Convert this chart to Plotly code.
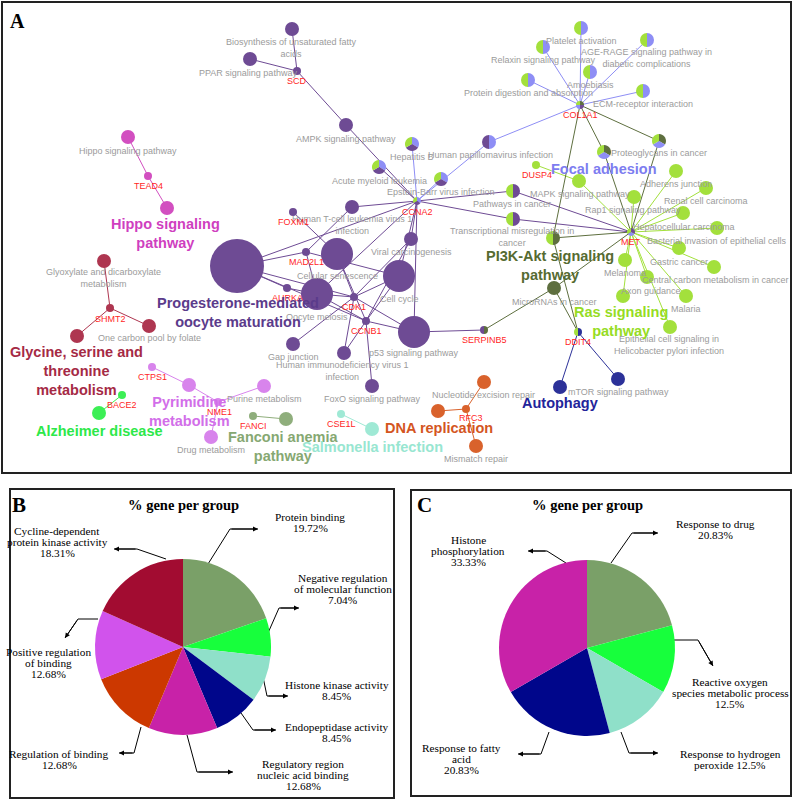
import plotly.graph_objects as go

W, H = 793, 800

# ---------------- Panel A : ClueGO-like network ----------------
group_color = dict(
    prog="#6e4b94", hippo="#d24fc0", gly="#ae3650", pyr="#d884ec", alz="#3cef55",
    fan="#8fae7c", sal="#9fe9d5", dna="#d9622c", auto="#2c3199", ras="#a3e03c",
    pi3k="#5e6f3f", focal="#8e8ef5")
group_text_color = dict(
    prog="#5b3b8b", hippo="#cf3fbf", gly="#a52a45", pyr="#d26ee9", alz="#2ee84a",
    fan="#86a872", sal="#98e6d1", dna="#d4561f", auto="#23249a", ras="#96dc24",
    pi3k="#566b31", focal="#7d7df0")

# single-coloured term nodes
term_id = ["biosyn", "ppar", "ampk", "hippo1", "hippo2", "humant", "viral", "prog", "cellsen",
           "cellcyc", "oocyte", "p53", "gap", "hiv", "foxo", "glyox", "onecarb", "glycine",
           "pyrim", "purine", "drugmet", "alz", "fanc", "salm", "ner", "dnarep", "mmr",
           "mapk", "adherens", "renal", "rap1", "hcc", "bact", "melanoma", "gastric",
           "central", "axon", "ras13", "malaria", "epith", "mirna", "autoph", "mtor"]
term_x = [292, 250, 346, 128, 167, 352, 411, 237, 337, 399, 317, 414, 293, 344, 372, 104, 149, 77,
          189, 264, 211, 99, 286, 372, 484, 438, 476, 579, 676, 706, 634, 683, 717, 625, 679,
          714, 647, 623, 686, 670, 554, 560, 618]
term_y = [29, 59, 125, 137, 208, 207, 239, 266, 254, 276, 294, 332, 344, 353, 386, 261, 326, 336,
          385, 386, 437, 413, 419, 429, 382, 411, 446, 181, 171, 188, 197, 213, 228, 260, 248,
          267, 277, 296, 296, 327, 288, 387, 379]
term_r = [7, 7, 7, 7, 7, 7, 7, 27, 16, 16, 16, 16, 7, 7, 7, 7, 7, 7, 7, 7, 7, 7, 7, 7, 7, 7, 7,
          7, 7, 7, 7, 7, 7, 7, 7, 7, 7, 7, 7, 7, 7, 7, 7]
term_grp = ["prog", "prog", "prog", "hippo", "hippo", "prog", "prog", "prog", "prog", "prog", "prog",
            "prog", "prog", "prog", "prog", "gly", "gly", "gly", "pyr", "pyr", "pyr", "alz", "fan",
            "sal", "dna", "dna", "dna", "ras", "ras", "ras", "ras", "ras", "ras", "ras", "ras", "ras",
            "ras", "ras", "ras", "ras", "pi3k", "auto", "auto"]

# single-coloured gene nodes
gene_id = ["scd", "tead4", "foxm1", "mad2l1", "aurka", "cdk1", "ccnb1", "shmt2", "ctps1", "nme1",
           "bace2", "fanci", "cse1l", "rfc3", "dusp4"]
gene_x = [297, 148, 293, 306, 287, 354, 366, 110, 152, 218, 122, 253, 341, 466, 536]
gene_y = [71, 176, 212, 252, 288, 297, 321, 308, 367, 402, 395, 416, 414, 409, 165]
gene_grp = ["prog", "hippo", "prog", "prog", "prog", "prog", "prog", "gly", "pyr", "pyr", "alz",
            "fan", "sal", "dna", "ras"]

# multi-group (pie) nodes
pie_id = ["hepb", "aml", "ebv", "hpv", "pic", "tmc", "platelet", "relaxin", "agerage", "amoeb",
          "protdig", "ecm", "proteo", "focal", "pi3k", "ccna2", "col1a1", "met", "ddit4", "serpinb5"]
pie_x = [412, 379, 441, 489, 513, 513, 581, 543, 647, 590, 528, 643, 604, 659, 553, 417, 580, 631, 578, 484]
pie_y = [144, 167, 179, 142, 191, 219, 28, 47, 40, 72, 80, 91, 152, 141, 238, 201, 105, 232, 332, 330]
pie_r = [7, 7, 7, 7, 7, 7, 7, 7, 7, 7, 7, 7, 7, 7, 7, 4, 4, 4, 4, 4]
pie_grps = [["focal", "prog", "ras"], ["focal", "prog", "ras"], ["focal", "prog", "ras"],
            ["focal", "prog"], ["prog", "ras"], ["prog", "ras"],
            ["focal", "ras"], ["focal", "ras"], ["focal", "ras"], ["focal", "ras"],
            ["focal", "ras"], ["focal", "ras"], ["pi3k", "focal", "ras"], ["pi3k", "focal", "ras"],
            ["pi3k", "ras"], ["focal", "prog", "ras"], ["pi3k", "prog", "focal", "ras"],
            ["prog", "focal", "ras"], ["auto", "ras"], ["pi3k", "prog"]]

# edges (gene -> term), coloured by group
edge_a = ["scd", "scd", "scd", "ampk", "tead4", "tead4",
          "ccna2", "ccna2", "ccna2", "ccna2", "col1a1",
          "ccna2", "ccna2", "ccna2", "ccna2", "ccna2", "ccna2", "ccna2", "ccna2",
          "mad2l1", "mad2l1", "mad2l1", "mad2l1", "foxm1", "aurka", "aurka",
          "cdk1", "cdk1", "cdk1", "cdk1", "cdk1", "cdk1", "cdk1", "cdk1",
          "ccnb1", "ccnb1", "ccnb1", "ccnb1", "ccnb1", "ccnb1", "ccnb1", "ccnb1",
          "p53", "pic", "tmc",
          "col1a1", "col1a1", "col1a1", "col1a1", "col1a1", "col1a1",
          "col1a1", "col1a1", "col1a1",
          "met", "met", "met", "met",
          "met", "met", "met", "met", "met", "met", "met", "met", "met", "met", "met", "met", "met",
          "dusp4", "serpinb5", "ddit4", "ddit4", "ddit4", "ddit4",
          "shmt2", "shmt2", "shmt2", "ctps1", "nme1", "nme1", "nme1", "bace2", "fanci", "cse1l",
          "rfc3", "rfc3", "rfc3"]
edge_b = ["biosyn", "ppar", "ampk", "ccna2", "hippo1", "hippo2",
          "hepb", "ebv", "hpv", "aml", "hpv",
          "pic", "tmc", "humant", "prog", "viral", "cellcyc", "oocyte", "p53",
          "prog", "humant", "cellcyc", "oocyte", "cellsen", "prog", "oocyte",
          "prog", "cellsen", "cellcyc", "oocyte", "viral", "gap", "hiv", "p53",
          "prog", "cellsen", "cellcyc", "oocyte", "p53", "hiv", "foxo", "viral",
          "serpinb5", "met", "met",
          "platelet", "relaxin", "agerage", "amoeb", "protdig", "ecm",
          "pi3k", "proteo", "focal",
          "proteo", "focal", "pi3k", "mirna",
          "mapk", "adherens", "renal", "rap1", "hcc", "bact", "melanoma", "gastric", "central",
          "axon", "ras13", "malaria", "epith",
          "mapk", "mirna", "pi3k", "mirna", "autoph", "mtor",
          "glyox", "onecarb", "glycine", "pyrim", "pyrim", "purine", "drugmet", "alz", "fanc", "salm",
          "ner", "dnarep", "mmr"]
edge_grp = ["prog", "prog", "prog", "prog", "hippo", "hippo",
            "focal", "focal", "focal", "prog", "focal",
            "prog", "prog", "prog", "prog", "prog", "prog", "prog", "prog",
            "prog", "prog", "prog", "prog", "prog", "prog", "prog",
            "prog", "prog", "prog", "prog", "prog", "prog", "prog", "prog",
            "prog", "prog", "prog", "prog", "prog", "prog", "prog", "prog",
            "prog", "prog", "prog",
            "focal", "focal", "focal", "focal", "focal", "focal",
            "pi3k", "pi3k", "pi3k",
            "pi3k", "pi3k", "pi3k", "pi3k",
            "ras", "ras", "ras", "ras", "ras", "ras", "ras", "ras", "ras", "ras", "ras", "ras", "ras",
            "ras", "pi3k", "pi3k", "pi3k", "auto", "auto",
            "gly", "gly", "gly", "pyr", "pyr", "pyr", "pyr", "alz", "fan", "sal",
            "dna", "dna", "dna"]

# node labels (grey = pathway terms, red = genes)
term_label_text = ["Biosynthesis of unsaturated fatty<br>acids", "PPAR signaling pathway",
                   "AMPK signaling pathway", "Hippo signaling pathway", "Hepatitis B",
                   "Acute myeloid leukemia", "Epstein-Barr virus infection",
                   "Human papillomavirus infection", "Human T-cell leukemia virus 1<br>infection",
                   "Pathways in cancer", "Transcriptional misregulation in<br>cancer",
                   "Viral carcinogenesis", "Cellular senescence", "Cell cycle", "Oocyte meiosis",
                   "p53 signaling pathway", "Gap junction",
                   "Human immunodeficiency virus 1<br>infection", "FoxO signaling pathway",
                   "Purine metabolism", "Drug metabolism", "Nucleotide excision repair",
                   "Mismatch repair", "Glyoxylate and dicarboxylate<br>metabolism",
                   "One carbon pool by folate", "Platelet activation", "Relaxin signaling pathway",
                   "AGE-RAGE signaling pathway in<br>diabetic complications", "Amoebiasis",
                   "Protein digestion and absorption", "ECM-receptor interaction",
                   "Proteoglycans in cancer", "MAPK signaling pathway", "Adherens junction",
                   "Renal cell carcinoma", "Rap1 signaling pathway", "Hepatocellular carcinoma",
                   "Bacterial invasion of epithelial cells", "Gastric cancer",
                   "Central carbon metabolism in cancer", "Melanoma", "Axon guidance", "Malaria",
                   "MicroRNAs in cancer", "mTOR signaling pathway",
                   "Epithelial cell signaling in<br>Helicobacter pylori infection"]
term_label_x = [291, 248, 346, 128, 412, 379, 441, 490, 352, 512, 512, 411, 337, 399, 317, 414, 293,
                342, 372, 264, 211, 483, 476, 103, 149, 581, 543, 646, 590, 528, 643, 659, 580, 676,
                706, 633, 684, 717, 679, 715, 625, 651, 686, 554, 618, 669]
term_label_y = [48, 73, 139, 151, 157, 181, 192, 155, 225, 204, 237, 252, 276, 299, 317, 353, 357,
                371, 399, 399, 450, 395, 459, 278, 338, 41, 60, 58, 85, 93, 104, 153, 194, 184, 201,
                210, 227, 241, 262, 280, 273, 291, 309, 302, 392, 345]
gene_label_text = ["SCD", "TEAD4", "FOXM1", "CCNA2", "MAD2L1", "AURKA", "CDK1", "CCNB1", "SERPINB5",
                   "SHMT2", "CTPS1", "BACE2", "NME1", "FANCI", "CSE1L", "RFC3", "COL1A1", "DUSP4",
                   "MET", "DDIT4"]
gene_label_x = [297, 148, 293, 417, 306, 287, 354, 366, 484, 110, 152, 122, 219, 253, 341, 471, 580,
                537, 631, 578]
gene_label_y = [81, 186, 222, 212, 262, 298, 307, 331, 340, 319, 377, 405, 412, 426, 424, 418, 115,
                175, 242, 342]

# group (cluster) labels
cluster_text = ["Hippo signaling<br>pathway", "Progesterone-mediated<br>oocyte maturation",
                "Glycine, serine and<br>threonine<br>metabolism", "Pyrimidine<br>metabolism",
                "Alzheimer disease", "Fanconi anemia<br>pathway", "Salmonella infection",
                "DNA replication", "Autophagy", "Ras signaling<br>pathway",
                "PI3K-Akt signaling<br>pathway", "Focal adhesion"]
cluster_x = [165, 238, 76, 189, 99, 283, 372, 439, 560, 621, 550, 604]
cluster_y = [233, 312, 371, 411, 431, 446, 447, 428, 403, 321, 265, 169]
cluster_grp = ["hippo", "prog", "gly", "pyr", "alz", "fan", "sal", "dna", "auto", "ras", "pi3k", "focal"]

# ---------------- Panel B / C : pie charts ----------------
b_labels = ["Protein binding", "Negative regulation of molecular function", "Histone kinase activity",
            "Endopeptidase activity", "Regulatory region nucleic acid binding", "Regulation of binding",
            "Positive regulation of binding", "Cycline-dependent protein kinase activity"]
b_values = [19.72, 7.04, 8.45, 8.45, 12.68, 12.68, 12.68, 18.31]
b_colors = ["#7aa068", "#17ff3c", "#8fe0c9", "#00068b", "#c822a8", "#cc3800", "#d153ec", "#a20c31"]
b_text = [["Protein binding", "19.72%"],
          ["Negative regulation", "of molecular function", "7.04%"],
          ["Histone kinase activity", "8.45%"],
          ["Endopeptidase activity", "8.45%"],
          ["Regulatory region", "nucleic acid binding", "12.68%"],
          ["Regulation of binding", "12.68%"],
          ["Positive regulation", "of binding", "12.68%"],
          ["Cycline-dependent", "protein kinase activity", "18.31%"]]
b_text_x = [310, 343, 337, 337, 303, 59, 48, 57]
b_text_y0 = [517, 578, 685, 727, 764, 754, 652, 531]
b_arrows = [[(208, 564), (230, 529), (258, 529)], [(268, 633), (279, 608), (299, 608)],
            [(263, 677), (267, 696), (288, 696)], [(241, 713), (253, 730), (276, 730)],
            [(187, 735), (197, 772), (233, 772)], [(141, 727), (134, 753), (119, 753)],
            [(98, 619), (78, 619), (65, 638)], [(166, 559), (137, 549), (114, 549)]]

c_labels = ["Response to drug", "Reactive oxygen species metabolic process",
            "Response to hydrogen peroxide", "Response to fatty acid", "Histone phosphorylation"]
c_values = [20.83, 12.5, 12.5, 20.83, 33.33]
c_colors = ["#7aa068", "#17ff3c", "#8fe0c9", "#00068b", "#c822a8"]
c_text = [["Response to drug", "20.83%"],
          ["Reactive oxygen", "species metabolic process", "12.5%"],
          ["Response to hydrogen", "peroxide 12.5%"],
          ["Response to fatty", "acid", "20.83%"],
          ["Histone", "phosphorylation", "33.33%"]]
c_text_x = [715, 730, 730, 461, 468]
c_text_y0 = [524, 682, 754, 748, 540]
c_arrows = [[(611, 563), (632, 533), (658, 533)], [(674, 640), (698, 640), (713, 666)],
            [(621, 732), (629, 753), (658, 753)], [(549, 732), (541, 754), (518, 754)],
            [(566, 563), (547, 551), (528, 551)]]

# =========================================================================
fig = go.Figure()
pos = {}
for i, n in enumerate(term_id):
    pos[n] = (term_x[i], term_y[i])
for i, n in enumerate(gene_id):
    pos[n] = (gene_x[i], gene_y[i])
for i, n in enumerate(pie_id):
    pos[n] = (pie_x[i], pie_y[i])

# edges grouped by colour
for g in group_color:
    xs, ys = [], []
    for a, b, eg in zip(edge_a, edge_b, edge_grp):
        if eg == g:
            xs += [pos[a][0], pos[b][0], None]
            ys += [pos[a][1], pos[b][1], None]
    if xs:
        fig.add_trace(go.Scatter(x=xs, y=ys, mode="lines", line=dict(color=group_color[g], width=1),
                                 hoverinfo="skip", showlegend=False))

# single colour nodes
fig.add_trace(go.Scatter(x=term_x, y=term_y, mode="markers",
                         marker=dict(size=[2 * r for r in term_r], opacity=1,
                                     color=[group_color[g] for g in term_grp], line=dict(width=0)),
                         hoverinfo="skip", showlegend=False))
fig.add_trace(go.Scatter(x=gene_x, y=gene_y, mode="markers",
                         marker=dict(size=8, opacity=1, color=[group_color[g] for g in gene_grp],
                                     line=dict(width=0)),
                         hoverinfo="skip", showlegend=False))

# pie nodes
for i in range(len(pie_id)):
    cx, cy, r = pie_x[i], pie_y[i], pie_r[i]
    grps = pie_grps[i]
    fig.add_trace(go.Pie(values=[1] * len(grps), marker=dict(colors=[group_color[g] for g in grps],
                                                             line=dict(width=0)),
                         sort=False, direction="clockwise", rotation=0, textinfo="none",
                         hoverinfo="skip", showlegend=False,
                         domain=dict(x=[(cx - r) / W, (cx + r) / W], y=[1 - (cy + r) / H, 1 - (cy - r) / H])))

# big pies
fig.add_trace(go.Pie(labels=b_labels, values=b_values, marker=dict(colors=b_colors, line=dict(width=0)),
                     sort=False, direction="clockwise", rotation=0, textinfo="none", hoverinfo="label+percent",
                     showlegend=False,
                     domain=dict(x=[(183 - 88) / W, (183 + 88) / W], y=[1 - (647 + 88) / H, 1 - (647 - 88) / H])))
fig.add_trace(go.Pie(labels=c_labels, values=c_values, marker=dict(colors=c_colors, line=dict(width=0)),
                     sort=False, direction="clockwise", rotation=0, textinfo="none", hoverinfo="label+percent",
                     showlegend=False,
                     domain=dict(x=[(587 - 88) / W, (587 + 88) / W], y=[1 - (648 + 88) / H, 1 - (648 - 88) / H])))

annotations = []
SANS = "Liberation Sans, Arial, sans-serif"
SERIF = "Liberation Serif, Times New Roman, serif"


def ann(text, x, y, size, color, family, bold=False, xanchor="center"):
    t = "<b>%s</b>" % text if bold else text
    annotations.append(dict(text=t, x=x, y=y, xref="x", yref="y", showarrow=False,
                            xanchor=xanchor, yanchor="middle",
                            font=dict(size=size, color=color, family=family)))


for t, x, y in zip(term_label_text, term_label_x, term_label_y):
    ann(t, x, y, 9, "#9b9b9b", SANS)
for t, x, y in zip(gene_label_text, gene_label_x, gene_label_y):
    ann(t, x, y, 9, "#ff1f1f", SANS)
for t, x, y, g in zip(cluster_text, cluster_x, cluster_y, cluster_grp):
    ann(t, x, y, 14.5, group_text_color[g], SANS, bold=True)

ann("A", 8, 21, 20, "black", SERIF, bold=True, xanchor="left")
ann("B", 10, 505, 21, "black", SERIF, bold=True, xanchor="left")
ann("C", 415, 505, 21, "black", SERIF, bold=True, xanchor="left")
ann("% gene per group", 183, 505, 14.5, "black", SERIF, bold=True)
ann("% gene per group", 587, 505, 14.5, "black", SERIF, bold=True)

for lines, x, y0 in list(zip(b_text, b_text_x, b_text_y0)) + list(zip(c_text, c_text_x, c_text_y0)):
    for k, line in enumerate(lines):
        ann(line, x, y0 + 11 * k, 11.3, "black", SERIF)

for pts in b_arrows + c_arrows:
    fig.add_trace(go.Scatter(x=[p[0] for p in pts], y=[p[1] for p in pts], mode="lines",
                             line=dict(color="black", width=1), hoverinfo="skip", showlegend=False))
    annotations.append(dict(x=pts[-1][0], y=pts[-1][1], ax=pts[-2][0], ay=pts[-2][1],
                            xref="x", yref="y", axref="x", ayref="y", text="", showarrow=True,
                            arrowhead=2, arrowsize=1, arrowwidth=1, arrowcolor="black", standoff=0))

shapes = [
    dict(type="rect", xref="x", yref="y", x0=2, y0=2, x1=791, y1=473, line=dict(color="#222", width=2)),
    dict(type="rect", xref="x", yref="y", x0=10, y0=489, x1=394, y1=798, line=dict(color="#222", width=2)),
    dict(type="rect", xref="x", yref="y", x0=411, y0=490, x1=791, y1=796, line=dict(color="#222", width=2)),
]

fig.update_layout(
    width=W, height=H, margin=dict(l=0, r=0, t=0, b=0),
    paper_bgcolor="white", plot_bgcolor="white",
    xaxis=dict(range=[0, W], visible=False, fixedrange=True),
    yaxis=dict(range=[H, 0], visible=False, fixedrange=True),
    annotations=annotations, shapes=shapes, showlegend=False,
)
fig.write_html("out.html", config=dict(displayModeBar=False),
               post_script="document.body.style.margin='0px';document.body.style.padding='0px';")
